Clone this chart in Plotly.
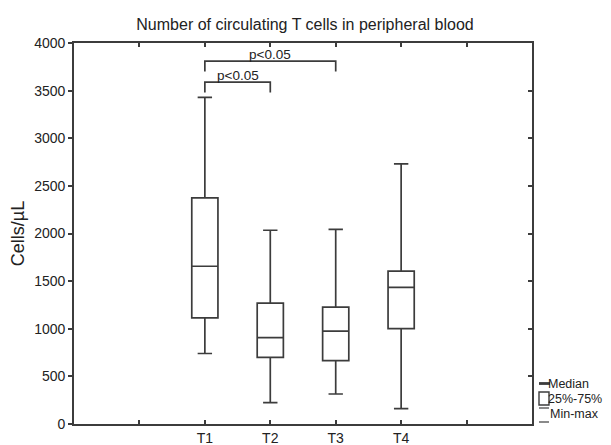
import plotly.graph_objects as go

# ---- data ----
groups = ["T1", "T2", "T3", "T4"]
mins = [740, 225, 315, 162]
q1s = [1115, 700, 665, 1001]
medians = [1656, 907, 976, 1435]
q3s = [2375, 1270, 1228, 1606]
maxs = [3430, 2034, 2044, 2730]

# significance brackets: (from group index, to group index, bar level, leg bottom, label)
br_from = [0, 0]
br_to = [1, 2]
br_level = [3590, 3810]
br_leg = [3480, 3700]
br_label = ["p<0.05", "p<0.05"]

title_text = "Number of circulating T cells in peripheral blood"
y_title = "Cells/µL"
y_ticks = [0, 500, 1000, 1500, 2000, 2500, 3000, 3500, 4000]

# ---- style ----
LC = "#3c3c3c"
FONT = "Liberation Sans, Arial, sans-serif"
W, H = 603, 437          # page body has an 8px margin
L, R, T, B = 66, 79, 35, 21

xpos = list(range(len(groups)))

fig = go.Figure()
fig.add_trace(go.Box(
    x=xpos, q1=q1s, median=medians, q3=q3s,
    lowerfence=mins, upperfence=maxs,
    width=0.4, whiskerwidth=0.55,
    fillcolor="rgba(255,255,255,0)",
    line=dict(color=LC, width=1.7),
    boxpoints=False, showlegend=False, hoverinfo="skip",
))

# brackets
for f, t, lv, lg, lab in zip(br_from, br_to, br_level, br_leg, br_label):
    fig.add_trace(go.Scatter(
        x=[xpos[f], xpos[f], xpos[t], xpos[t]], y=[lg, lv, lv, lg],
        mode="lines", line=dict(color=LC, width=1.7),
        showlegend=False, hoverinfo="skip",
    ))
    fig.add_annotation(x=(xpos[f] + xpos[t]) / 2, y=lv, text=lab,
                       showarrow=False, yanchor="bottom", yshift=-3,
                       font=dict(size=13.5, color="#222", family=FONT))

# invisible trace for the mirrored right axis
fig.add_trace(go.Scatter(x=[None], y=[None], yaxis="y2", showlegend=False, hoverinfo="skip"))

tickvals_x = list(range(-2, 6))
ticktext_x = [groups[v] if 0 <= v < len(groups) else "" for v in tickvals_x]

fig.update_layout(
    width=W, height=H,
    margin=dict(l=L, r=R, t=T, b=B),
    paper_bgcolor="white", plot_bgcolor="white",
    font=dict(family=FONT, size=14, color="#222"),
    title=dict(text=title_text, x=297 / W, xanchor="center", y=1 - 16 / H, yanchor="middle",
               font=dict(size=16, color="#222", family=FONT)),
    xaxis=dict(range=[-2, 5], tickvals=tickvals_x, ticktext=ticktext_x,
               ticks="inside", ticklen=4, tickwidth=1.5, tickcolor=LC,
               showline=True, linecolor=LC, linewidth=1.8, mirror="ticks",
               showgrid=False, zeroline=False, automargin=False,
               tickfont=dict(size=14, color="#222")),
    yaxis=dict(range=[0, 4000], tickvals=y_ticks,
               ticks="outside", ticklen=4, tickwidth=1.5, tickcolor=LC,
               showline=True, linecolor=LC, linewidth=1.8, mirror=True,
               showgrid=False, zeroline=False, automargin=False,
               tickfont=dict(size=14, color="#222"),
               title=dict(text=y_title, font=dict(size=18, color="#222"), standoff=10)),
    yaxis2=dict(range=[0, 4000], tickvals=y_ticks, overlaying="y", side="right",
                ticks="inside", ticklen=4, tickwidth=1.5, tickcolor=LC, automargin=False,
                showticklabels=False, showline=False, showgrid=False, zeroline=False),
)

# ---- legend key (outside plot, right), positions in figure pixels ----
def px_x(px):
    return (px - L) / (W - L - R)

def px_y(py):
    return (H - B - py) / (H - T - B)

shapes = [
    dict(type="line", xref="paper", yref="paper", x0=px_x(531), x1=px_x(542),
         y0=px_y(375.5), y1=px_y(375.5), line=dict(color=LC, width=2.8)),
    dict(type="rect", xref="paper", yref="paper", x0=px_x(531), x1=px_x(541),
         y0=px_y(397), y1=px_y(384), line=dict(color=LC, width=1.4)),
    dict(type="line", xref="paper", yref="paper", x0=px_x(531), x1=px_x(541),
         y0=px_y(400), y1=px_y(400), line=dict(color=LC, width=1.2)),
    dict(type="line", xref="paper", yref="paper", x0=px_x(531), x1=px_x(541),
         y0=px_y(414), y1=px_y(414), line=dict(color=LC, width=1.2)),
]
for s in shapes:
    fig.add_shape(**s)

legend_texts = ["Median", "25%-75%", "Min-max"]
legend_y = [375.5, 390.5, 406]
legend_x = [541, 541, 543]
for txt, yy, xx in zip(legend_texts, legend_y, legend_x):
    fig.add_annotation(xref="paper", yref="paper", x=px_x(xx), y=px_y(yy), text=txt,
                       showarrow=False, xanchor="left", yanchor="middle", xshift=-3,
                       font=dict(size=12.5, color="#222", family=FONT))

fig.write_html("out.html")
